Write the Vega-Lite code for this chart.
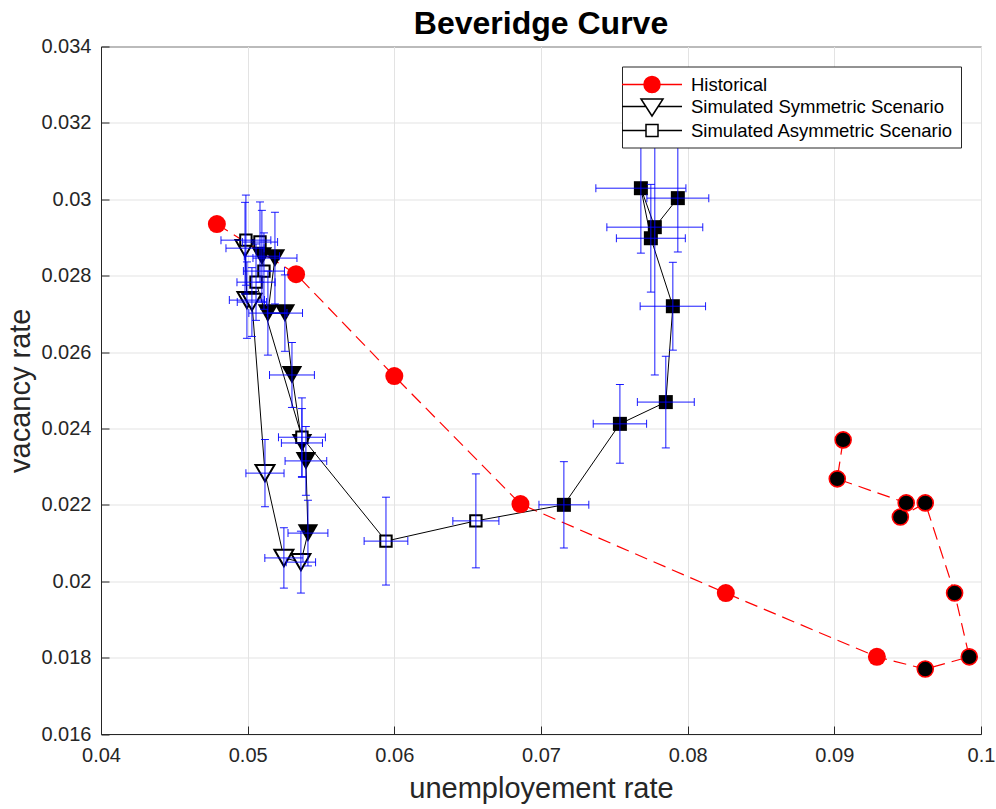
{
  "$schema": "https://vega.github.io/schema/vega-lite/v6.json",
  "width": 880,
  "height": 687.5,
  "autosize": {"type": "none"},
  "padding": {"left": 101, "top": 46.5, "right": 15, "bottom": 75},
  "background": "white",
  "title": {"text": "Beveridge Curve", "fontSize": 32, "fontWeight": "bold", "font": "Liberation Sans", "color": "#000000", "offset": -4, "anchor": "middle"},
  "config": {
    "view": {"stroke": "#262626", "strokeWidth": 1},
    "axis": {
      "domainColor": "#262626", "tickColor": "#262626", "labelColor": "#262626", "titleColor": "#262626",
      "labelFont": "Liberation Sans", "titleFont": "Liberation Sans", "labelFontSize": 20, "titleFontSize": 29,
      "titleFontWeight": "normal", "gridColor": "#e3e3e3", "tickSize": -8, "labelFlush": false, "labelOverlap": false
    },
    "axisX": {"labelPadding": 19, "titlePadding": 9},
    "axisY": {"labelPadding": 18, "titlePadding": 5},
    "legend": {
      "orient": "top-right", "offset": 20, "fillColor": "white", "strokeColor": "#262626", "padding": 7,
      "labelFont": "Liberation Sans", "labelFontSize": 18.5, "labelColor": "#000000", "labelLimit": 400, "symbolSize": 400,
      "symbolStrokeWidth": 1.5, "symbolOffset": 12, "labelOffset": 28, "rowPadding": 0, "cornerRadius": 0
    }
  },
  "data": {"values": [
    {"series": "Historical", "phase": "a", "t": 1, "x": 0.0479, "y": 0.02935},
    {"series": "Historical", "phase": "a", "t": 2, "x": 0.0533, "y": 0.02804},
    {"series": "Historical", "phase": "a", "t": 3, "x": 0.0600, "y": 0.02537},
    {"series": "Historical", "phase": "a", "t": 4, "x": 0.0686, "y": 0.02202},
    {"series": "Historical", "phase": "a", "t": 5, "x": 0.0826, "y": 0.01969},
    {"series": "Historical", "phase": "a", "t": 6, "x": 0.0929, "y": 0.01802},
    {"series": "Historical", "phase": "b", "t": 7, "x": 0.0962, "y": 0.0177},
    {"series": "Historical", "phase": "b", "t": 8, "x": 0.0992, "y": 0.01802},
    {"series": "Historical", "phase": "b", "t": 9, "x": 0.0982, "y": 0.01969},
    {"series": "Historical", "phase": "b", "t": 10, "x": 0.0962, "y": 0.02205},
    {"series": "Historical", "phase": "b", "t": 11, "x": 0.0945, "y": 0.02168},
    {"series": "Historical", "phase": "b", "t": 12, "x": 0.0949, "y": 0.02205},
    {"series": "Historical", "phase": "b", "t": 13, "x": 0.0902, "y": 0.02268},
    {"series": "Historical", "phase": "b", "t": 14, "x": 0.0906, "y": 0.0237},

    {"series": "Simulated Symmetric Scenario", "phase": "a", "t": 1, "x": 0.04982, "y": 0.02872, "xlo": 0.04852, "xhi": 0.05112, "ylo": 0.02752, "yhi": 0.02992},
    {"series": "Simulated Symmetric Scenario", "phase": "a", "t": 2, "x": 0.04995, "y": 0.02736, "xlo": 0.04875, "xhi": 0.05115, "ylo": 0.02636, "yhi": 0.02836},
    {"series": "Simulated Symmetric Scenario", "phase": "a", "t": 3, "x": 0.05029, "y": 0.02731, "xlo": 0.04929, "xhi": 0.05129, "ylo": 0.02641, "yhi": 0.02821},
    {"series": "Simulated Symmetric Scenario", "phase": "a", "t": 4, "x": 0.05118, "y": 0.02283, "xlo": 0.04988, "xhi": 0.05248, "ylo": 0.02195, "yhi": 0.02371},
    {"series": "Simulated Symmetric Scenario", "phase": "a", "t": 5, "x": 0.05247, "y": 0.02061, "xlo": 0.05117, "xhi": 0.05377, "ylo": 0.01982, "yhi": 0.0214},
    {"series": "Simulated Symmetric Scenario", "phase": "a", "t": 6, "x": 0.05363, "y": 0.0205, "xlo": 0.05263, "xhi": 0.05463, "ylo": 0.01969, "yhi": 0.02131},
    {"series": "Simulated Symmetric Scenario", "phase": "b", "t": 7, "x": 0.05411, "y": 0.02126, "xlo": 0.05275, "xhi": 0.05547, "ylo": 0.0204, "yhi": 0.02212},
    {"series": "Simulated Symmetric Scenario", "phase": "b", "t": 8, "x": 0.05397, "y": 0.02315, "xlo": 0.05255, "xhi": 0.05539, "ylo": 0.02225, "yhi": 0.02405},
    {"series": "Simulated Symmetric Scenario", "phase": "b", "t": 9, "x": 0.0537, "y": 0.02362, "xlo": 0.0523, "xhi": 0.0551, "ylo": 0.02272, "yhi": 0.02452},
    {"series": "Simulated Symmetric Scenario", "phase": "b", "t": 10, "x": 0.05302, "y": 0.0254, "xlo": 0.05149, "xhi": 0.05455, "ylo": 0.02455, "yhi": 0.02625},
    {"series": "Simulated Symmetric Scenario", "phase": "b", "t": 11, "x": 0.05254, "y": 0.02702, "xlo": 0.05134, "xhi": 0.05374, "ylo": 0.02602, "yhi": 0.02802},
    {"series": "Simulated Symmetric Scenario", "phase": "b", "t": 12, "x": 0.05138, "y": 0.02702, "xlo": 0.05008, "xhi": 0.05268, "ylo": 0.02592, "yhi": 0.02812},
    {"series": "Simulated Symmetric Scenario", "phase": "b", "t": 13, "x": 0.05186, "y": 0.02846, "xlo": 0.05036, "xhi": 0.05336, "ylo": 0.02726, "yhi": 0.02966},
    {"series": "Simulated Symmetric Scenario", "phase": "b", "t": 14, "x": 0.05097, "y": 0.02851, "xlo": 0.04977, "xhi": 0.05217, "ylo": 0.02731, "yhi": 0.02971},

    {"series": "Simulated Asymmetric Scenario", "phase": "a", "t": 1, "x": 0.04988, "y": 0.02893, "xlo": 0.04818, "xhi": 0.05158, "ylo": 0.02775, "yhi": 0.03011},
    {"series": "Simulated Asymmetric Scenario", "phase": "a", "t": 2, "x": 0.05084, "y": 0.02888, "xlo": 0.04964, "xhi": 0.05204, "ylo": 0.02783, "yhi": 0.02993},
    {"series": "Simulated Asymmetric Scenario", "phase": "a", "t": 3, "x": 0.05111, "y": 0.02812, "xlo": 0.04971, "xhi": 0.05251, "ylo": 0.02712, "yhi": 0.02912},
    {"series": "Simulated Asymmetric Scenario", "phase": "a", "t": 4, "x": 0.05057, "y": 0.02783, "xlo": 0.04927, "xhi": 0.05187, "ylo": 0.02683, "yhi": 0.02883},
    {"series": "Simulated Asymmetric Scenario", "phase": "a", "t": 5, "x": 0.0537, "y": 0.02377, "xlo": 0.0521, "xhi": 0.0553, "ylo": 0.02274, "yhi": 0.0248},
    {"series": "Simulated Asymmetric Scenario", "phase": "a", "t": 6, "x": 0.05943, "y": 0.02105, "xlo": 0.05794, "xhi": 0.06092, "ylo": 0.0199, "yhi": 0.0222},
    {"series": "Simulated Asymmetric Scenario", "phase": "a", "t": 7, "x": 0.06556, "y": 0.02158, "xlo": 0.06399, "xhi": 0.06713, "ylo": 0.02035, "yhi": 0.02281},
    {"series": "Simulated Asymmetric Scenario", "phase": "b", "t": 8, "x": 0.07156, "y": 0.022, "xlo": 0.06986, "xhi": 0.07326, "ylo": 0.02087, "yhi": 0.02313},
    {"series": "Simulated Asymmetric Scenario", "phase": "b", "t": 9, "x": 0.07538, "y": 0.02412, "xlo": 0.07356, "xhi": 0.0772, "ylo": 0.02309, "yhi": 0.02515},
    {"series": "Simulated Asymmetric Scenario", "phase": "b", "t": 10, "x": 0.07851, "y": 0.02469, "xlo": 0.07657, "xhi": 0.08045, "ylo": 0.02349, "yhi": 0.02589},
    {"series": "Simulated Asymmetric Scenario", "phase": "b", "t": 11, "x": 0.07899, "y": 0.0272, "xlo": 0.07676, "xhi": 0.08122, "ylo": 0.02605, "yhi": 0.02835},
    {"series": "Simulated Asymmetric Scenario", "phase": "b", "t": 12, "x": 0.07749, "y": 0.02898, "xlo": 0.07514, "xhi": 0.07984, "ylo": 0.02757, "yhi": 0.03039},
    {"series": "Simulated Asymmetric Scenario", "phase": "b", "t": 13, "x": 0.07681, "y": 0.03029, "xlo": 0.07374, "xhi": 0.07988, "ylo": 0.02859, "yhi": 0.03199},
    {"series": "Simulated Asymmetric Scenario", "phase": "b", "t": 14, "x": 0.07776, "y": 0.02927, "xlo": 0.07449, "xhi": 0.08103, "ylo": 0.0254, "yhi": 0.03314},
    {"series": "Simulated Asymmetric Scenario", "phase": "b", "t": 15, "x": 0.07933, "y": 0.03003, "xlo": 0.07722, "xhi": 0.08144, "ylo": 0.02862, "yhi": 0.03144}
  ]},
  "encoding": {
    "x": {"field": "x", "type": "quantitative", "title": "unemployement rate",
          "scale": {"domain": [0.04, 0.1], "nice": false, "zero": false},
          "axis": {"values": [0.04, 0.05, 0.06, 0.07, 0.08, 0.09, 0.1], "format": "~g"}},
    "y": {"field": "y", "type": "quantitative", "title": "vacancy rate",
          "scale": {"domain": [0.016, 0.034], "nice": false, "zero": false},
          "axis": {"values": [0.016, 0.018, 0.02, 0.022, 0.024, 0.026, 0.028, 0.03, 0.032, 0.034], "format": "~g"}}
  },
  "layer": [
    {
      "transform": [{"filter": {"field": "series", "equal": "Historical"}}],
      "mark": {"type": "line", "color": "#ff0000", "strokeWidth": 1.2, "strokeDash": [13, 7]},
      "encoding": {"order": {"field": "t", "type": "quantitative"}}
    },
    {
      "transform": [{"filter": {"not": {"field": "series", "equal": "Historical"}}}],
      "mark": {"type": "line", "color": "#000000", "strokeWidth": 1},
      "encoding": {"detail": {"field": "series", "type": "nominal"}, "order": {"field": "t", "type": "quantitative"}}
    },
    {
      "transform": [{"filter": "datum.t < 0"}],
      "mark": {"type": "point", "filled": true, "opacity": 1, "strokeWidth": 1.5},
      "encoding": {
        "stroke": {"field": "series", "type": "nominal", "title": null,
                   "scale": {"domain": ["Historical", "Simulated Symmetric Scenario", "Simulated Asymmetric Scenario"], "range": ["#ff0000", "#000000", "#000000"]}},
        "fill": {"field": "series", "type": "nominal", "title": null,
                 "scale": {"domain": ["Historical", "Simulated Symmetric Scenario", "Simulated Asymmetric Scenario"], "range": ["#ff0000", "#ffffff", "#ffffff"]}},
        "shape": {"field": "series", "type": "nominal", "title": null,
                  "scale": {"domain": ["Historical", "Simulated Symmetric Scenario", "Simulated Asymmetric Scenario"],
                            "range": ["M-3,0L-0.8,0M0.8,0L3,0M-0.8,0A0.8,0.8 0 1,0 0.8,0A0.8,0.8 0 1,0 -0.8,0Z",
                                      "M-3,0L-0.62,0M0.62,0L3,0M-1.1,-0.75L1.1,-0.75L0,0.95Z",
                                      "M-3,0L-0.6,0M0.6,0L3,0M-0.6,-0.6L0.6,-0.6L0.6,0.6L-0.6,0.6Z"]}}
      }
    },
    {
      "transform": [{"filter": "datum.series == 'Historical' && datum.phase == 'a'"}],
      "mark": {"type": "point", "shape": "circle", "filled": true, "fill": "#ff0000", "stroke": null, "size": 324, "opacity": 1}
    },
    {
      "transform": [{"filter": "datum.series == 'Historical' && datum.phase == 'b'"}],
      "mark": {"type": "point", "shape": "circle", "filled": true, "fill": "#000000", "stroke": "#ff0000", "strokeWidth": 1.6, "size": 256, "opacity": 1}
    },
    {
      "transform": [{"filter": "datum.series == 'Simulated Symmetric Scenario' && datum.phase == 'a'"}],
      "mark": {"type": "point", "shape": "triangle-down", "filled": true, "fill": "#ffffff", "stroke": "#000000", "strokeWidth": 2, "size": 360, "opacity": 1}
    },
    {
      "transform": [{"filter": "datum.series == 'Simulated Symmetric Scenario' && datum.phase == 'b'"}],
      "mark": {"type": "point", "shape": "triangle-down", "filled": true, "fill": "#000000", "stroke": null, "size": 420, "opacity": 1}
    },
    {
      "transform": [{"filter": "datum.series == 'Simulated Asymmetric Scenario' && datum.phase == 'a'"}],
      "mark": {"type": "point", "shape": "square", "filled": true, "fill": "#ffffff", "stroke": "#000000", "strokeWidth": 2, "size": 130, "opacity": 1}
    },
    {
      "transform": [{"filter": "datum.series == 'Simulated Asymmetric Scenario' && datum.phase == 'b'"}],
      "mark": {"type": "point", "shape": "square", "filled": true, "fill": "#000000", "stroke": null, "size": 196, "opacity": 1}
    },
    {
      "transform": [{"filter": {"not": {"field": "series", "equal": "Historical"}}}],
      "mark": {"type": "rule", "color": "#0000ff", "strokeWidth": 1, "opacity": 0.9},
      "encoding": {"y": {"field": "ylo", "type": "quantitative", "title": "vacancy rate"}, "y2": {"field": "yhi"}}
    },
    {
      "transform": [{"filter": {"not": {"field": "series", "equal": "Historical"}}}],
      "mark": {"type": "rule", "color": "#0000ff", "strokeWidth": 1, "opacity": 0.9},
      "encoding": {"x": {"field": "xlo", "type": "quantitative", "title": "unemployement rate"}, "x2": {"field": "xhi"}}
    },
    {
      "transform": [{"filter": {"not": {"field": "series", "equal": "Historical"}}}],
      "mark": {"type": "tick", "orient": "horizontal", "color": "#0000ff", "size": 8, "thickness": 1, "opacity": 0.9},
      "encoding": {"y": {"field": "ylo", "type": "quantitative", "title": "vacancy rate"}}
    },
    {
      "transform": [{"filter": {"not": {"field": "series", "equal": "Historical"}}}],
      "mark": {"type": "tick", "orient": "horizontal", "color": "#0000ff", "size": 8, "thickness": 1, "opacity": 0.9},
      "encoding": {"y": {"field": "yhi", "type": "quantitative", "title": "vacancy rate"}}
    },
    {
      "transform": [{"filter": {"not": {"field": "series", "equal": "Historical"}}}],
      "mark": {"type": "tick", "orient": "vertical", "color": "#0000ff", "size": 8, "thickness": 1, "opacity": 0.9},
      "encoding": {"x": {"field": "xlo", "type": "quantitative", "title": "unemployement rate"}}
    },
    {
      "transform": [{"filter": {"not": {"field": "series", "equal": "Historical"}}}],
      "mark": {"type": "tick", "orient": "vertical", "color": "#0000ff", "size": 8, "thickness": 1, "opacity": 0.9},
      "encoding": {"x": {"field": "xhi", "type": "quantitative", "title": "unemployement rate"}}
    }
  ]
}
